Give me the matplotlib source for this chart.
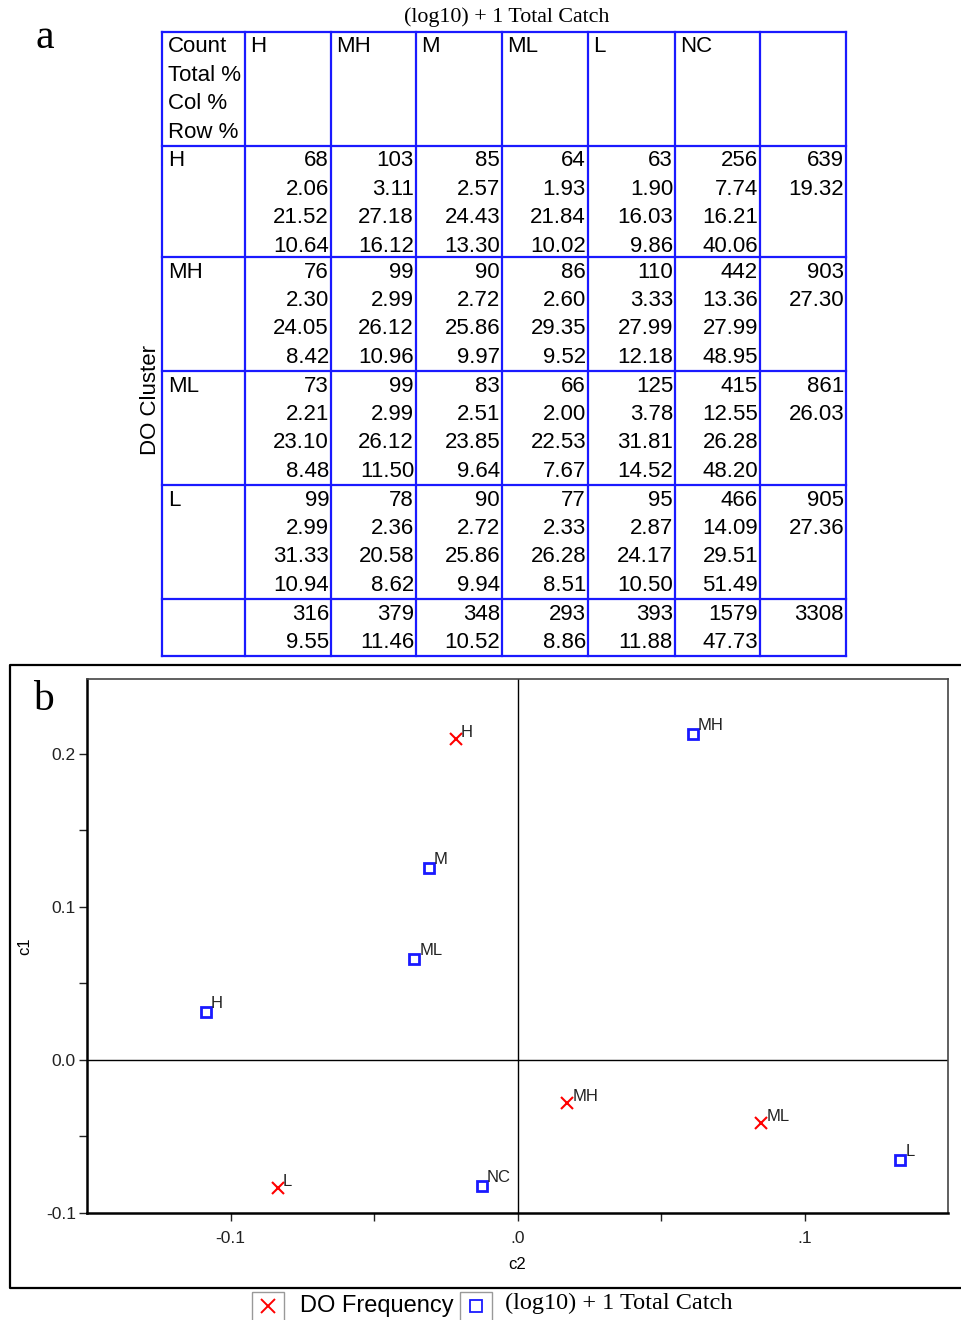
import matplotlib.pyplot as plt
from matplotlib.patches import Rectangle

# contingency table: DO cluster (rows) x total catch class (columns)
col_names = ['H', 'MH', 'M', 'ML', 'L', 'NC']
row_names = ['H', 'MH', 'ML', 'L']

counts = [[68, 103, 85, 64, 63, 256],
          [76, 99, 90, 86, 110, 442],
          [73, 99, 83, 66, 125, 415],
          [99, 78, 90, 77, 95, 466]]
total_pct = [[2.06, 3.11, 2.57, 1.93, 1.90, 7.74],
             [2.30, 2.99, 2.72, 2.60, 3.33, 13.36],
             [2.21, 2.99, 2.51, 2.00, 3.78, 12.55],
             [2.99, 2.36, 2.72, 2.33, 2.87, 14.09]]
col_pct = [[21.52, 27.18, 24.43, 21.84, 16.03, 16.21],
           [24.05, 26.12, 25.86, 29.35, 27.99, 27.99],
           [23.10, 26.12, 23.85, 22.53, 31.81, 26.28],
           [31.33, 20.58, 25.86, 26.28, 24.17, 29.51]]
row_pct = [[10.64, 16.12, 13.30, 10.02, 9.86, 40.06],
           [8.42, 10.96, 9.97, 9.52, 12.18, 48.95],
           [8.48, 11.50, 9.64, 7.67, 14.52, 48.20],
           [10.94, 8.62, 9.94, 8.51, 10.50, 51.49]]
row_totals = [639, 903, 861, 905]
row_total_pct = [19.32, 27.30, 26.03, 27.36]
col_totals = [316, 379, 348, 293, 393, 1579]
col_total_pct = [9.55, 11.46, 10.52, 8.86, 11.88, 47.73]
grand_total = 3308

# correspondence analysis coordinates (c2, c1)
do_labels = ['H', 'MH', 'ML', 'L']
do_c2 = [-0.0216, 0.0174, 0.0850, -0.0836]
do_c1 = [0.2098, -0.0281, -0.0412, -0.0837]

catch_labels = ['MH', 'M', 'ML', 'H', 'NC', 'L']
catch_c2 = [0.0610, -0.0310, -0.0359, -0.1087, -0.0125, 0.1334]
catch_c1 = [0.2130, 0.1255, 0.0660, 0.0314, -0.0824, -0.0654]

W, H = 961, 1320
fig = plt.figure(figsize=(W / 100, H / 100), dpi=100)
sans = 'Liberation Sans'
serif = 'Liberation Serif'

# full-figure pixel canvas for table and frame
bg = fig.add_axes([0, 0, 1, 1])
bg.set_xlim(0, W)
bg.set_ylim(H, 0)
bg.axis('off')

blue = '#1a1aff'
xs = [162, 245, 331, 416, 502, 588, 675, 760, 846]
ys = [32, 146, 257, 371, 485, 599, 656]
for x in xs:
    bg.plot([x, x], [ys[0], ys[-1]], color=blue, lw=1.6)
for y in ys:
    bg.plot([xs[0], xs[-1]], [y, y], color=blue, lw=1.6)

fs = 16
step = 28.4
bg.text(507, 17, '(log10) + 1 Total Catch', family=serif, fontsize=15.8,
        ha='center', va='center')
bg.text(45, 38, 'a', family=serif, fontsize=30, ha='center', va='center')
bg.text(150, 400, 'DO Cluster', family=sans, fontsize=16, rotation=90,
        ha='center', va='center')

for k, s in enumerate(['Count', 'Total %', 'Col %', 'Row %']):
    bg.text(xs[0] + 6, ys[0] + 15 + k * step, s, family=sans, fontsize=fs,
            ha='left', va='center')
for j, name in enumerate(col_names):
    bg.text(xs[j + 1] + 5, ys[0] + 15, name, family=sans, fontsize=fs,
            ha='left', va='center')

for i, name in enumerate(row_names):
    top = ys[i + 1] + 15
    bg.text(xs[0] + 6, top, name, family=sans, fontsize=fs, ha='left', va='center')
    for j in range(len(col_names)):
        vals = [str(counts[i][j]), '%.2f' % total_pct[i][j],
                '%.2f' % col_pct[i][j], '%.2f' % row_pct[i][j]]
        for k, v in enumerate(vals):
            bg.text(xs[j + 2] - 2, top + k * step, v, family=sans, fontsize=fs,
                    ha='right', va='center')
    bg.text(xs[-1] - 2, top, str(row_totals[i]), family=sans, fontsize=fs,
            ha='right', va='center')
    bg.text(xs[-1] - 2, top + step, '%.2f' % row_total_pct[i], family=sans,
            fontsize=fs, ha='right', va='center')

top = ys[5] + 15
for j in range(len(col_names)):
    bg.text(xs[j + 2] - 2, top, str(col_totals[j]), family=sans, fontsize=fs,
            ha='right', va='center')
    bg.text(xs[j + 2] - 2, top + step, '%.2f' % col_total_pct[j], family=sans,
            fontsize=fs, ha='right', va='center')
bg.text(xs[-1] - 2, top, str(grand_total), family=sans, fontsize=fs,
        ha='right', va='center')

# outer frame of panel b (open on the right)
bg.plot([W + 5, 10, 10, W + 5], [665, 665, 1288, 1288], color='black', lw=1.6)
bg.text(43, 700, 'b', family=serif, fontsize=30, ha='center', va='center')

# legend below panel b
bg.add_patch(Rectangle((252, 1292), 32, 30, fill=False, ec='#999999', lw=1))
bg.plot([268], [1306], 'x', color='red', ms=10, mew=1.4)
bg.text(300, 1306, 'DO Frequency', family=sans, fontsize=17, ha='left', va='center')
bg.add_patch(Rectangle((460, 1292), 32, 30, fill=False, ec='#999999', lw=1))
bg.plot([476], [1306], 's', mfc='none', mec=blue, ms=9, mew=1.3)
bg.text(505, 1303, '(log10) + 1 Total Catch', family=serif, fontsize=17.5,
        ha='left', va='center')

# correspondence analysis scatter
left, right, ytop, ybot = 87, 948, 679, 1213
ax = fig.add_axes([left / W, (H - ybot) / H, (right - left) / W, (ybot - ytop) / H])
ax.set_xlim(-0.15, 0.15)
ax.set_ylim(-0.1, 0.249)
ax.axhline(0, color='black', lw=1)
ax.axvline(0, color='black', lw=1)

ax.plot(do_c2, do_c1, 'x', color='red', ms=8, mew=1.5, ls='none')
ax.plot(catch_c2, catch_c1, 's', mfc='none', mec=blue, ms=7, mew=2, ls='none')
for lab, x, y in zip(do_labels, do_c2, do_c1):
    ax.annotate(lab, (x, y), xytext=(3.5, -0.5), textcoords='offset points',
                family=sans, fontsize=12, ha='left', va='bottom', color='#222222')
for lab, x, y in zip(catch_labels, catch_c2, catch_c1):
    ax.annotate(lab, (x, y), xytext=(3.5, 0.5), textcoords='offset points',
                family=sans, fontsize=12, ha='left', va='bottom', color='#222222')

ax.set_xticks([-0.1, 0, 0.1])
ax.set_xticklabels(['-0.1', '.0', '.1'], family=sans, fontsize=12.5)
ax.set_xticks([-0.05, 0.05], minor=True)
ax.set_yticks([-0.1, 0, 0.1, 0.2])
ax.set_yticklabels(['-0.1', '0.0', '0.1', '0.2'], family=sans, fontsize=12.5)
ax.set_yticks([-0.05, 0.05, 0.15], minor=True)
ax.tick_params(which='both', direction='out', length=6, width=1, colors='#222222')
ax.tick_params(axis='x', pad=7)
ax.tick_params(axis='y', pad=2)
ax.set_xlabel('c2', family=sans, fontsize=12, labelpad=8)
ax.set_ylabel('c1', family=sans, fontsize=12, labelpad=10)
for side in ['left', 'bottom']:
    ax.spines[side].set_linewidth(1.8)
for side in ['top', 'right']:
    ax.spines[side].set_linewidth(1.2)
    ax.spines[side].set_color('#444444')

fig.savefig('out.png', dpi=100)
